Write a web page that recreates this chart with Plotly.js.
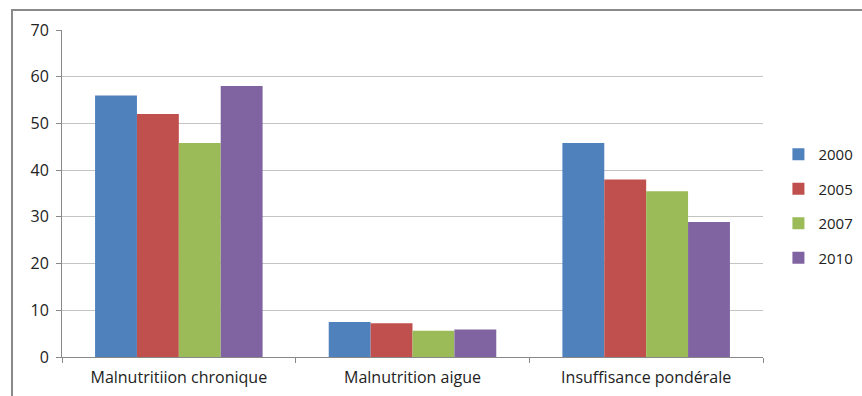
<!DOCTYPE html>
<html><head><meta charset="utf-8">
<script src="https://cdn.plot.ly/plotly-3.0.1.min.js"></script>
<style>html,body{margin:0;padding:0;background:#fff}#c{width:862px;height:396px}</style>
</head><body><div id="c"></div>
<script>
const categories = ["Malnutritiion chronique", "Malnutrition aigue", "Insuffisance pondérale"];
const years = ["2000", "2005", "2007", "2010"];
const v2000 = [56, 7.5, 45.8];
const v2005 = [52, 7.2, 38];
const v2007 = [45.8, 5.6, 35.5];
const v2010 = [58, 5.9, 28.9];
const yTicks = [0, 10, 20, 30, 40, 50, 60, 70];
const colors = ["#4F81BD", "#C0504D", "#9BBB59", "#8064A2"];
const series = [v2000, v2005, v2007, v2010];

const traces = series.map((s, i) => ({
  type: "bar", x: categories, y: s, name: years[i],
  marker: {color: colors[i]}, legendgroup: years[i]
}));

const layout = {
  width: 862, height: 396,
  margin: {l: 62, r: 99, t: 30, b: 39, autoexpand: false},
  paper_bgcolor: "#fff", plot_bgcolor: "#fff",
  barmode: "group", bargap: 0.283, bargroupgap: 0,
  font: {family: "Open Sans, Noto Sans, sans-serif", color: "#222", size: 16},
  xaxis: {
    type: "category", showline: true, linecolor: "#888", linewidth: 1,
    ticks: "outside", tickson: "boundaries", ticklen: 5, tickcolor: "#888",
    tickfont: {size: 16}, showgrid: false, ticklabelstandoff: 6
  },
  yaxis: {
    range: [0, 70], tickvals: yTicks, showline: true, linecolor: "#888", linewidth: 1,
    ticks: "outside", ticklen: 5, tickcolor: "#888", gridcolor: "#c4c4c4",
    zeroline: false, tickfont: {size: 16}, ticklabelstandoff: 4
  },
  legend: {x: 1.022, xanchor: "left", y: 0.462, yanchor: "middle",
           font: {size: 15}, tracegroupgap: 12, itemwidth: 30},
  shapes: [{type: "rect", xref: "paper", yref: "paper",
            x0: (12 - 62) / 701, x1: 1.3, y0: -0.3, y1: 1 + 20 / 327,
            line: {color: "#8a8a8a", width: 2}, fillcolor: "rgba(0,0,0,0)", layer: "below"}],
  showlegend: true
};
Plotly.newPlot("c", traces, layout, {displayModeBar: false, staticPlot: true});
</script></body></html>
